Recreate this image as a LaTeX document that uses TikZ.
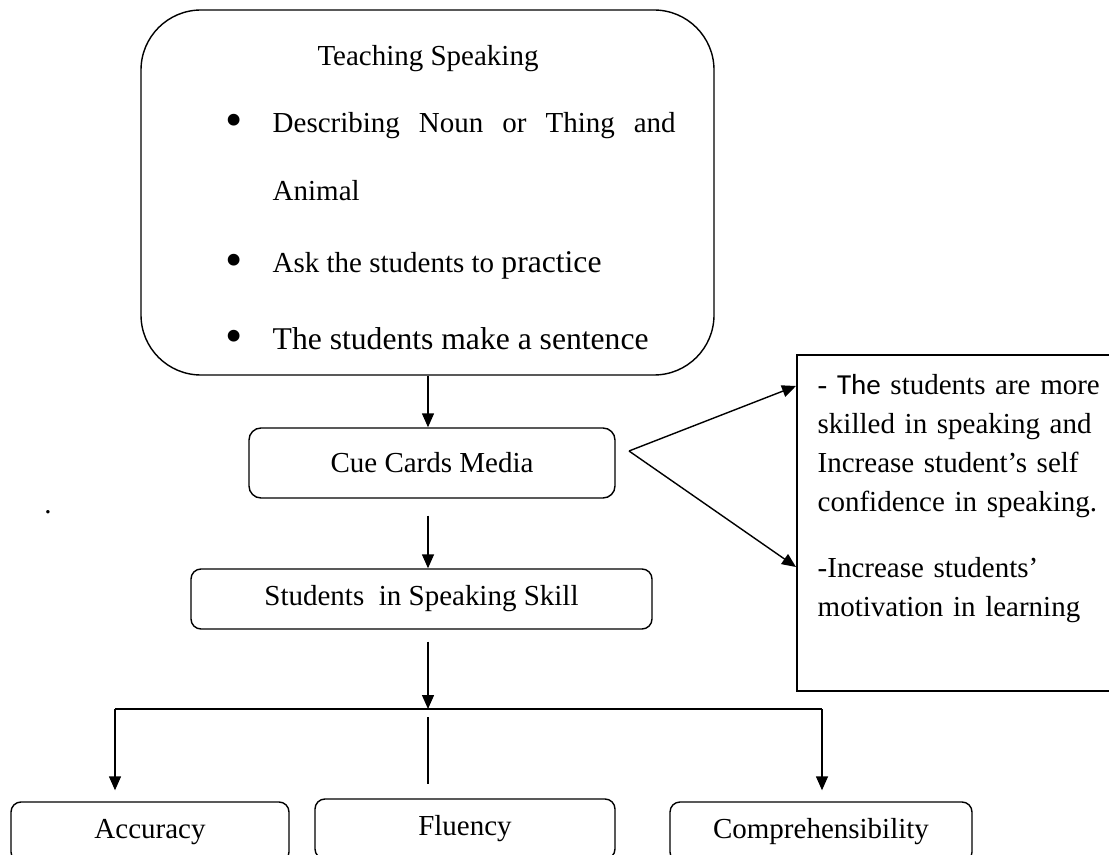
\documentclass[tikz,border=0pt]{standalone}
\usepackage{fontspec}
\setmainfont{Liberation Serif}
\newfontfamily\calibri{Carlito}
\usetikzlibrary{arrows.meta}
\newcommand{\BigTxt}[1]{{\fontsize{18}{22}\selectfont #1}}
\newcommand{\Blt}{\makebox[0.94cm][l]{\raisebox{-0.12em}{\scalebox{1.7}{\textbullet}}}}

\begin{document}
\begin{tikzpicture}[
    font=\fontsize{16.5}{22.2}\selectfont,
    line width=0.8pt,
    bigbox/.style={draw, rounded corners=1.2cm, minimum width=11.46cm, minimum height=7.3cm},
    cardbox/.style={draw, rounded corners=0.24cm, minimum height=1.4cm},
    skillbox/.style={draw, rounded corners=0.2cm, minimum height=1.2cm},
    notebox/.style={draw, minimum width=6.86cm, minimum height=6.72cm},
    textline/.style={anchor=base west, inner sep=0pt},
    arr/.style={-{Triangle[length=0.28cm,width=0.24cm]}}
  ]
  \useasboundingbox (0,0) rectangle (22.18,-17.1);
  \clip (0,0) rectangle (22.18,-17.1);

  % Define nodes
  \node[bigbox, xshift=8.55cm, yshift=-3.85cm] (teach) {};
  \node[anchor=base, inner sep=0pt, xshift=8.56cm, yshift=-1.32cm] (title) {Teaching Speaking};
  \node[textline, xshift=4.5cm, yshift=-2.66cm] (item1) {\Blt\makebox[8.06cm][s]{Describing Noun or Thing and}};
  \node[textline, xshift=5.44cm, yshift=-4.02cm] (item1b) {Animal};
  \node[textline, xshift=4.5cm, yshift=-5.46cm] (item2) {\Blt Ask the students to \BigTxt{practice}};
  \node[textline, xshift=4.5cm, yshift=-6.98cm] (item3) {\Blt\BigTxt{The students make a sentence}};

  \node[cardbox, minimum width=7.32cm, xshift=8.64cm, yshift=-9.26cm] (cue) {Cue Cards Media};
  \node[skillbox, minimum width=9.22cm, xshift=8.43cm, yshift=-11.98cm] (skill) {Students~~in Speaking Skill};

  \node[skillbox, minimum width=5.56cm, xshift=3.0cm, yshift=-16.64cm] (acc) {Accuracy};
  \node[skillbox, minimum width=6.0cm, xshift=9.3cm, yshift=-16.58cm] (flu) {Fluency};
  \node[skillbox, minimum width=6.04cm, xshift=16.42cm, yshift=-16.64cm] (comp) {Comprehensibility};

  \node[notebox, xshift=19.37cm, yshift=-10.46cm] (benefit) {};
  \node[anchor=north west, inner sep=0pt, text width=5.62cm, align=left, xshift=16.34cm, yshift=-7.48cm] (note) {%
    \makebox[5.58cm][s]{- {\calibri The} students are more}\\
    \makebox[5.58cm][s]{skilled in speaking and}\\
    \makebox[5.58cm][s]{Increase student’s self}\\
    \mbox{confidence in speaking.}\\[15pt]
    \mbox{-Increase students’}\\
    \mbox{motivation in learning}};

  \node[anchor=base, inner sep=0pt, xshift=0.96cm, yshift=-10.26cm] (dot) {.};

  \coordinate (hub) at (8.56,-14.18);
  \coordinate (hubL) at (2.3,-14.18);
  \coordinate (hubR) at (16.44,-14.18);
  \coordinate (apex) at (12.58,-9.02);
  \coordinate (tipU) at (15.92,-7.72);
  \coordinate (tipD) at (15.92,-11.34);

  % Connect the nodes
  \draw[arr] (teach.south -| hub) -- (hub |- cue.north);
  \draw[arr] ([yshift=-0.34cm]cue.south -| hub) -- (hub |- skill.north);
  \draw[arr] ([yshift=-0.24cm]skill.south -| hub) -- (hub);
  \draw (hubL) -- (hubR);
  \draw[arr, shorten >=0.22cm] (hubL) -- (hubL |- acc.north);
  \draw[arr, shorten >=0.22cm] (hubR) -- (hubR |- comp.north);
  \draw[shorten <=0.16cm, shorten >=0.28cm] (hub) -- (hub |- flu.north);
  \draw[arr] (apex) -- (tipU);
  \draw[arr] (apex) -- (tipD);
\end{tikzpicture}
\end{document}
